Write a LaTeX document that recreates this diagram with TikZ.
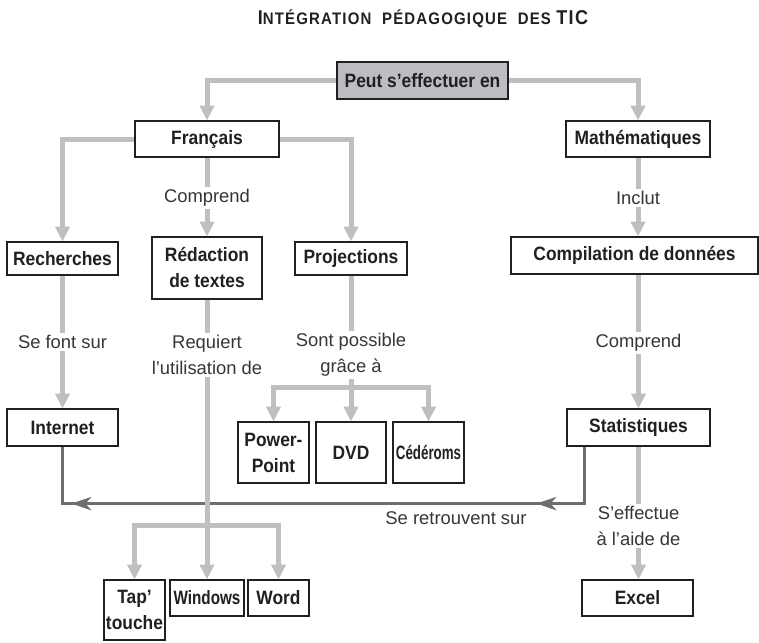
\documentclass[tikz,border=0pt]{standalone}
\usepackage{fontspec}
\setmainfont{Liberation Sans}
\newfontfamily\condfont{Liberation Sans}[FakeStretch=0.9]
\newfontfamily\serrefont{Liberation Sans}[FakeStretch=0.79]
\newfontfamily\tresserrefont{Liberation Sans}[FakeStretch=0.69]
\usepackage{tikz}
\usetikzlibrary{arrows.meta,decorations.markings}
\definecolor{encre}{RGB}{35,31,32}
\definecolor{grisligne}{RGB}{190,191,193}
\definecolor{grisboite}{RGB}{188,189,192}
\definecolor{grisfonce}{RGB}{109,110,113}
\tikzset{
  concept/.style={rectangle, draw=encre, line width=0.9pt, fill=white, inner sep=0pt,
                  align=center, text=encre, font=\condfont\bfseries\fontsize{14.5}{19.5}\selectfont},
  racine/.style={concept, fill=grisboite},
  serre/.style={font=\serrefont\bfseries\fontsize{14.5}{19.5}\selectfont},
  tresserre/.style={font=\tresserrefont\bfseries\fontsize{14.5}{19.5}\selectfont},
  lien/.style={draw=grisligne, line width=3.75pt, -{Triangle[length=11pt,width=10.5pt]}},
  tronc/.style={draw=grisligne, line width=3.75pt},
  etiq/.style={fill=white, inner sep=1.5pt, align=center, text=encre!90,
               font=\fontsize{13.8}{19.5}\selectfont},
  retour/.style={color=grisfonce, line width=2pt, postaction={decorate},
                 decoration={markings,
                   mark=at position 78.75pt with {\arrow{Stealth[length=15pt,width=10pt,inset=4.5pt]}},
                   mark=at position 427.5pt with {\arrow{Stealth[length=15pt,width=10pt,inset=4.5pt]}}}},
}
\begin{document}
\begin{tikzpicture}[x=0.75pt,y=-0.75pt]
  \useasboundingbox (0,0) rectangle (759,642);
  % Titre
  \node[text=encre, font=\condfont\bfseries\addfontfeature{LetterSpace=7}] (titre) at (423,18.5)
    {{\fontsize{15}{16}\selectfont I}{\fontsize{12.5}{16}\selectfont NTÉGRATION\hspace{4pt} PÉDAGOGIQUE\hspace{4pt} DES\hspace{4pt}}{\fontsize{15}{16}\selectfont TIC}};
  % Concepts
  \node[racine, minimum width=128.25pt, minimum height=27.75pt] (peut) at (422.5,80.5) {Peut s’effectuer en};
  \node[concept, minimum width=108pt, minimum height=27pt] (fran) at (207,139) {Français};
  \node[concept, minimum width=108pt, minimum height=27pt] (math) at (638,139) {Mathématiques};
  \node[concept, minimum width=83.25pt, minimum height=24.75pt] (rech) at (62.5,258.5) {Recherches};
  \node[concept, minimum width=82.5pt, minimum height=46.5pt] (reda) at (207,268) {Rédaction\\de textes};
  \node[concept, minimum width=84pt, minimum height=24.75pt] (proj) at (351,258.5) {Projections};
  \node[concept, minimum width=185.25pt, minimum height=27.75pt] (comp) at (634.5,255.5) {Compilation de données};
  \node[concept, minimum width=83.25pt, minimum height=27.75pt] (internet) at (62.5,427.5) {Internet};
  \node[concept, minimum width=107.25pt, minimum height=27.75pt] (stats) at (638.5,427.5) {Statistiques};
  \node[concept, minimum width=53.25pt, minimum height=45.75pt] (pp) at (273.5,452.5) {Power-\\Point};
  \node[concept, minimum width=52.5pt, minimum height=45.75pt] (dvd) at (351,452.5) {DVD};
  \node[concept, tresserre, minimum width=53.25pt, minimum height=45.75pt] (cd) at (428.5,452.5) {Cédéroms};
  \node[concept, minimum width=45.75pt, minimum height=45pt] (tap) at (134.5,610) {Tap’\\touche};
  \node[concept, serre, minimum width=55.5pt, minimum height=27pt] (win) at (207,598) {Windows};
  \node[concept, minimum width=45.75pt, minimum height=27pt] (word) at (278.5,598) {Word};
  \node[concept, minimum width=83.25pt, minimum height=27pt] (excel) at (637.5,598) {Excel};
  % Retour vers Internet
  \draw[retour] ([xshift=13.5pt]stats.south west) -- ++(0,57) -| (internet.south);
  % Liens
  \draw[lien] (peut.west) -| (fran.north);
  \draw[lien] (peut.east) -| (math.north);
  \draw[lien] (fran.west) -| (rech.north);
  \draw[lien] (fran.east) -| (proj.north);
  \draw[lien] (fran.south) -- (reda.north);
  \draw[lien] (math.south) -- (math.south |- comp.north);
  \draw[lien] (rech.south) -- (internet.north);
  \draw[lien] (stats.north |- comp.south) -- (stats.north);
  \draw[lien] (stats.south) -- (stats.south |- excel.north);
  \coordinate (projnoeud) at (351,387);
  \draw[tronc] (proj.south) -- (projnoeud);
  \draw[lien] (projnoeud) -| (pp.north);
  \draw[lien] (projnoeud) -- (dvd.north);
  \draw[lien] (projnoeud) -| (cd.north);
  \coordinate (redanoeud) at (207,525);
  \draw[tronc] (reda.south) -- (redanoeud);
  \draw[lien] (redanoeud) -| (tap.north);
  \draw[lien] (redanoeud) -- (win.north);
  \draw[lien] (redanoeud) -| (word.north);
  % Etiquettes
  \node[etiq] (lcomprend) at (207,198) {Comprend};
  \node[etiq] (linclut) at (638,198) {Inclut};
  \node[etiq] (lfont) at (62.5,342) {Se font sur};
  \node[etiq] (lrequiert) at (207,355) {Requiert\\l’utilisation de};
  \node[etiq] (lsont) at (351,355) {Sont possible\\grâce à};
  \node[etiq] (lcomprendb) at (638.5,343) {Comprend};
  \node[etiq] (leffectue) at (638.5,526) {S’effectue\\à l’aide de};
  \node[etiq, fill=none] (lretrouvent) at (456,518) {Se retrouvent sur};
\end{tikzpicture}
\end{document}
